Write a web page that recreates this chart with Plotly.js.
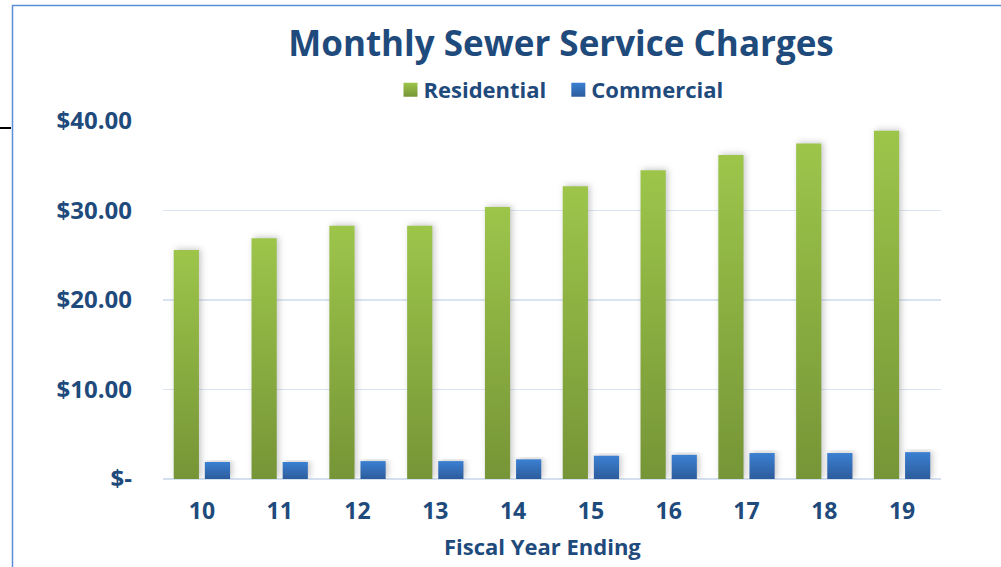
<!DOCTYPE html>
<html>
<head>
<meta charset="utf-8">
<script src="https://cdn.plot.ly/plotly-3.0.1.min.js"></script>
<style>
  html, body { margin: 0; padding: 0; background: #ffffff; }
  #chart { width: 1001px; height: 567px; }
</style>
</head>
<body>
<div id="chart"></div>
<script>
const years = ['10', '11', '12', '13', '14', '15', '16', '17', '18', '19'];
const residential = [25.6, 26.9, 28.3, 28.3, 30.4, 32.7, 34.5, 36.2, 37.5, 38.9];
const commercial = [1.9, 1.9, 2.0, 2.0, 2.2, 2.6, 2.7, 2.9, 2.9, 3.0];
const yTickVals = [0, 10, 20, 30, 40];
const yTickText = ['$-', '$10.00', '$20.00', '$30.00', '$40.00'];

const textColor = '#1F4A7C';
const fontFam = '"Open Sans", Lato, sans-serif';

const traces = [
  {
    type: 'bar', name: 'Residential', x: years, y: residential,
    marker: { color: '#8CB443', line: { width: 0 } },
    hoverinfo: 'skip'
  },
  {
    type: 'bar', name: 'Commercial', x: years, y: commercial,
    marker: { color: '#3470BD', line: { width: 0 } },
    hoverinfo: 'skip'
  }
];

const pxX = p => (p - 163) / 778;
const pxY = p => (479 - p) / 358;

const layout = {
  width: 1001, height: 567,
  paper_bgcolor: '#ffffff', plot_bgcolor: '#ffffff',
  margin: { l: 163, r: 60, t: 121, b: 88 },
  barmode: 'group', bargap: 0.2, bargroupgap: 0.19,
  font: { family: fontFam, color: textColor, weight: 'bold' },
  title: {
    text: 'Monthly Sewer Service Charges',
    font: { size: 35, family: fontFam, color: textColor, weight: 'bold' },
    x: 561 / 1001, xanchor: 'center', xref: 'container',
    y: 1 - 44 / 567, yanchor: 'middle', yref: 'container'
  },
  showlegend: true,
  legend: {
    orientation: 'h', x: pxX(556), xanchor: 'center',
    y: pxY(90), yanchor: 'middle',
    font: { size: 22, family: fontFam, color: textColor, weight: 'bold' },
    itemwidth: 30, traceorder: 'normal', bgcolor: 'rgba(0,0,0,0)'
  },
  xaxis: {
    type: 'category', showgrid: false, zeroline: false, showline: false,
    ticks: '', tickfont: { size: 23, family: fontFam, color: textColor, weight: 'bold' },
    ticklabelstandoff: 16
  },
  yaxis: {
    range: [0, 40], tickvals: yTickVals, ticktext: yTickText,
    showgrid: true, gridcolor: '#D9E3F1', gridwidth: 1.5,
    zeroline: true, zerolinecolor: '#D4E0EF', zerolinewidth: 2.5,
    showline: false, ticks: '',
    tickfont: { size: 24, family: fontFam, color: textColor, weight: 'bold' },
    ticklabelstandoff: 30
  },
  annotations: [
    { text: 'Fiscal Year Ending', xref: 'paper', yref: 'paper', x: pxX(542), y: pxY(546),
      xanchor: 'center', yanchor: 'middle', showarrow: false,
      font: { size: 22, family: fontFam, color: textColor, weight: 'bold' } }
  ],
  shapes: [
    { type: 'line', xref: 'paper', yref: 'paper', x0: pxX(12.5), x1: pxX(12.5), y0: pxY(5.5), y1: pxY(575), line: { color: '#5B8ED6', width: 1.5 } },
    { type: 'line', xref: 'paper', yref: 'paper', x0: pxX(12), x1: pxX(1010), y0: pxY(5.5), y1: pxY(5.5), line: { color: '#5B8ED6', width: 1.5 } },
    { type: 'line', xref: 'paper', yref: 'paper', x0: pxX(-2), x1: pxX(11), y0: pxY(128), y1: pxY(128), line: { color: '#000000', width: 2 } }
  ]
};

const config = { staticPlot: true, displayModeBar: false };

Plotly.newPlot('chart', traces, layout, config).then(gd => {
  const svg = gd.querySelector('svg.main-svg');
  const ns = 'http://www.w3.org/2000/svg';
  let defs = svg.querySelector('defs');
  if (!defs) { defs = document.createElementNS(ns, 'defs'); svg.insertBefore(defs, svg.firstChild); }
  function grad(id, top, bottom) {
    const g = document.createElementNS(ns, 'linearGradient');
    g.setAttribute('id', id);
    g.setAttribute('x1', '0'); g.setAttribute('y1', '0');
    g.setAttribute('x2', '0'); g.setAttribute('y2', '1');
    [[0, top], [1, bottom]].forEach(([o, c]) => {
      const s = document.createElementNS(ns, 'stop');
      s.setAttribute('offset', o); s.setAttribute('stop-color', c);
      g.appendChild(s);
    });
    defs.appendChild(g);
  }
  grad('gGreen', '#9DC54A', '#769537');
  grad('gBlue', '#3B80D2', '#2C5C9C');
  const f = document.createElementNS(ns, 'filter');
  f.setAttribute('id', 'shadow');
  f.setAttribute('x', '-50%'); f.setAttribute('y', '-10%');
  f.setAttribute('width', '200%'); f.setAttribute('height', '120%');
  const ds = document.createElementNS(ns, 'feDropShadow');
  ds.setAttribute('dx', '2'); ds.setAttribute('dy', '-1');
  ds.setAttribute('stdDeviation', '3');
  ds.setAttribute('flood-color', '#808080'); ds.setAttribute('flood-opacity', '0.45');
  f.appendChild(ds);
  defs.appendChild(f);
  const ids = ['gGreen', 'gBlue'];
  gd.querySelectorAll('.barlayer .trace.bars').forEach((t, i) => {
    t.querySelectorAll('.point path').forEach(p => {
      p.style.fill = 'url(#' + ids[i] + ')';
      p.setAttribute('filter', 'url(#shadow)');
    });
  });
  gd.querySelectorAll('.legend .traces').forEach((t, i) => {
    t.querySelectorAll('.legendpoints path').forEach(p => {
      p.style.fill = 'url(#' + ids[i] + ')';
      p.setAttribute('d', 'M14,7H0V-7H14Z');
    });
  });
});
</script>
</body>
</html>
